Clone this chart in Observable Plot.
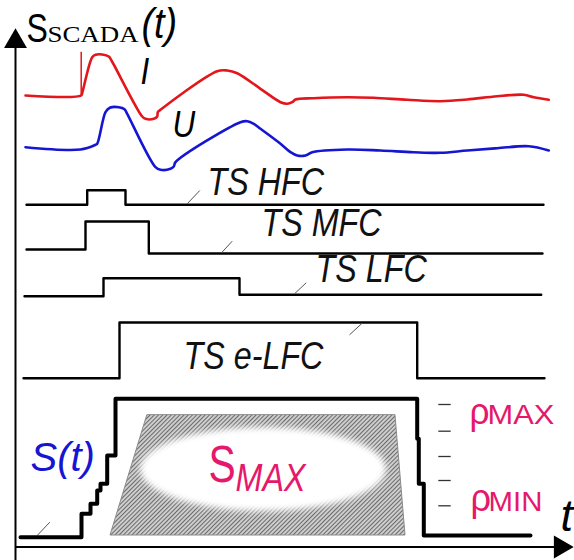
<!DOCTYPE html>
<html><head><meta charset="utf-8">
<script src="https://cdn.jsdelivr.net/npm/d3@7"></script>
<script src="https://cdn.jsdelivr.net/npm/@observablehq/plot@0.6"></script>
<style>html,body{margin:0;padding:0;background:#fff} svg{display:block}</style>
</head><body><div id="chart"></div>
<script>
// ---- SCADA signal I (red) : time samples and levels (y grows downward) ----
const iTime  = [25,80.7,81.7,91.7,95,101.7,108.3,111,141.7,145,153.3,156.7,157.3,160,216.7,226.7,236.7,260,280,286.7,291.7,295,313,346.7,373,406.7,440,466.7,496.7,523.3,533.3,548.3];
const iLevel = [95,95,92.5,56.7,54.3,54,56,60,116,118.3,118.3,116,111.7,109.3,70.7,70,72.7,88.3,101.7,103.3,101.7,99,97.7,96.7,97.3,99.3,100.7,99,95.7,94.3,96.7,99.3];
const iSpike = {t: 80.7, from: 95, to: 51.7};
// ---- SCADA signal U (blue) ----
const uTime  = [25,80,95,96.7,105,109.3,118.3,124,126.7,155,160,170,173.3,175,240,246.7,253.3,260,280,290,296.7,305,311.7,346.7,380,413,440,466.7,496.7,528.3,548.3];
const uLevel = [146.7,149,144.3,143.3,111.7,107.3,106.7,108.7,113.3,166.7,169.3,168.3,166,161.7,121.7,120.7,123.3,128.3,143.3,151.7,155,155,151.7,149,150,151.7,152.3,150,147.7,145.7,150];

// ---- telesignal (TS) step traces ----
const tsNames    = ["TS HFC","TS MFC","TS LFC","TS e-LFC"];
const tsStart    = [26,26,24,23];
const tsOn       = [86.7,85,103,119];
const tsOff      = [125,148.3,239,416.7];
const tsEnd      = [543,542,540.7,544];
const tsLowLeft  = [204.3,249,295.7,377.7];
const tsHigh     = [189.7,221,277.7,322];
const tsLowRight = [204.3,253,294.3,377.7];
const tsLabelT   = [207,261,315,183];
const tsLabelL   = [194,235,281.5,368.5];
const tsLeaderT  = [[186.7,199.3],[221,231.7],[294,305.7],[349,361.7]];
const tsLeaderL  = [[203.3,190],[252.3,240.7],[293.3,282.3],[334.3,322.7]];

// ---- resulting S(t) staircase ----
const sTime  = [20,81,81,90,90,96.7,96.7,100,100,106.7,106.7,115,115,416.7,416.7,418.3,418.3,423.3,423.3,530];
const sLevel = [536.7,536.7,513.3,513.3,503.3,503.3,490,490,483.3,483.3,455,455,398.3,398.3,438.3,438.3,483.3,483.3,535,535];
const sLeader = {t:[36.7,49.3], l:[535,521.7]};

// ---- S_MAX region (trapezoid + ellipse) ----
const trapLevel = [415,535];
const trapLeft  = [146.7,110];
const trapRight = [395,405];
const ellipseC  = {t:263, l:469, rt:123, rl:42};

// ---- rho scale dashes ----
const rhoDashLevels = [404,430.7,456,480,505.3];
const rhoDashSpan   = [438.3,450.7];

// ---- axes ----
const axisT = {origin:15, end:573, level:546.5};
const axisL = {top:28, bottom:560};

const RED = "#e3161c", BLUE = "#1616d2", PINK = "#e5186b";
const SANS = "'Liberation Sans', Arial, Helvetica, sans-serif";
const SERIF = "'Liberation Serif', 'Times New Roman', serif";

const tsPaths = tsNames.flatMap((name, k) => [
  [tsStart[k], tsLowLeft[k]], [tsOn[k], tsLowLeft[k]], [tsOn[k], tsHigh[k]],
  [tsOff[k], tsHigh[k]], [tsOff[k], tsLowRight[k]], [tsEnd[k], tsLowRight[k]]
].map(([t, l]) => ({name, t, l})));
const tsLabels = tsNames.map((name, k) => ({name, t: tsLabelT[k], l: tsLabelL[k]}));
const tsLeaders = tsNames.map((name, k) => ({t1: tsLeaderT[k][0], t2: tsLeaderT[k][1], l1: tsLeaderL[k][0], l2: tsLeaderL[k][1]}));
tsLeaders.push({t1: sLeader.t[0], t2: sLeader.t[1], l1: sLeader.l[0], l2: sLeader.l[1]});

const iData = iTime.map((t, k) => ({t, l: iLevel[k]}));
const uData = uTime.map((t, k) => ({t, l: uLevel[k]}));
const sData = sTime.map((t, k) => ({t, l: sLevel[k]}));
const trap = trapLevel.map((l, k) => ({l, a: trapLeft[k], b: trapRight[k]}));

function defsMark() {
  const defs = d3.create("svg:defs");
  const p = defs.append("pattern").attr("id", "hatch").attr("patternUnits", "userSpaceOnUse")
    .attr("width", 3).attr("height", 3).attr("patternTransform", "rotate(45)");
  p.append("rect").attr("width", 3).attr("height", 3).attr("fill", "#d0d0d0");
  p.append("line").attr("x1", 0.5).attr("y1", 0).attr("x2", 0.5).attr("y2", 3)
    .attr("stroke", "#6a6a6a").attr("stroke-width", 1.1);
  const f = defs.append("filter").attr("id", "soft").attr("x", "-20%").attr("y", "-40%")
    .attr("width", "140%").attr("height", "180%");
  f.append("feGaussianBlur").attr("stdDeviation", 3);
  return defs.node();
}
function ellipseMark(index, {x, y}) {
  return d3.create("svg:ellipse")
    .attr("cx", x(ellipseC.t)).attr("cy", y(ellipseC.l))
    .attr("rx", x(ellipseC.t + ellipseC.rt) - x(ellipseC.t))
    .attr("ry", y(ellipseC.l + ellipseC.rl) - y(ellipseC.l))
    .attr("fill", "white").attr("filter", "url(#soft)").node();
}

const txt = (t, l, text, size, opts = {}) =>
  Plot.text([{t, l, text}], {x: "t", y: "l", text: "text", fontSize: size, textAnchor: "start",
    lineAnchor: "bottom", fontFamily: SANS, fill: "black", ...opts});

const chart = Plot.plot({
  width: 574, height: 560, margin: 0,
  x: {domain: [0, 574], range: [0, 574], axis: null},
  y: {domain: [0, 560], range: [0, 560], axis: null},
  style: {background: "white", fontFamily: SANS, overflow: "visible"},
  marks: [
    defsMark,
    // axes
    Plot.ruleX([axisT.origin], {y1: axisL.top + 14, y2: axisL.bottom, stroke: "black", strokeWidth: 2}),
    Plot.ruleY([axisT.level], {x1: axisT.origin, x2: axisT.end - 14, stroke: "black", strokeWidth: 2}),
    Plot.dot([{t: axisT.origin, l: axisL.top + 13}], {x: "t", y: "l", symbol: "triangle", r: 8.5, fill: "black", stroke: null}),
    Plot.dot([{t: axisT.end - 13, l: axisT.level}], {x: "t", y: "l", symbol: "triangle", r: 8.5, fill: "black", stroke: null, rotate: 90}),
    // S_MAX region
    Plot.areaX(trap, {y: "l", x1: "a", x2: "b", fill: "url(#hatch)", stroke: "#8a8a8a", strokeWidth: 1}),
    ellipseMark,
    // SCADA curves
    Plot.ruleX([iSpike.t], {y1: iSpike.to, y2: iSpike.from, stroke: RED, strokeWidth: 1.5}),
    Plot.line(iData, {x: "t", y: "l", stroke: RED, strokeWidth: 2.6, curve: "catmull-rom"}),
    Plot.line(uData, {x: "t", y: "l", stroke: BLUE, strokeWidth: 2.6, curve: "catmull-rom"}),
    // TS traces
    Plot.line(tsPaths, {x: "t", y: "l", z: "name", stroke: "black", strokeWidth: 2.4}),
    Plot.link(tsLeaders, {x1: "t1", x2: "t2", y1: "l1", y2: "l2", stroke: "#555", strokeWidth: 1}),
    Plot.text(tsLabels, {x: "t", y: "l", text: "name", fontSize: 38, fontStyle: "italic", textAnchor: "start", lineAnchor: "bottom", fill: "#111"}),
    // S(t)
    Plot.line(sData, {x: "t", y: "l", stroke: "black", strokeWidth: 4}),
    // rho dashes
    Plot.ruleY(rhoDashLevels, {x1: rhoDashSpan[0], x2: rhoDashSpan[1], stroke: "#333", strokeWidth: 1.3}),
    // texts
    txt(26, 41.7, "S", 40),
    txt(47, 41.7, "SCADA", 24, {fontFamily: SERIF}),
    txt(141, 37.7, "(t)", 43, {fontStyle: "italic"}),
    txt(140, 83, "I", 37, {fontStyle: "italic"}),
    txt(172, 136.5, "U", 37, {fontStyle: "italic"}),
    txt(30, 470, "S(t)", 40, {fontStyle: "italic", fill: BLUE}),
    txt(208, 481.7, "S", 51, {fill: PINK}),
    txt(235, 490, "MAX", 38, {fontStyle: "italic", fill: PINK}),
    txt(469, 423.5, "ρ", 37, {fill: PINK}),
    txt(487, 423.3, "MAX", 28, {fill: PINK}),
    txt(470, 510, "ρ", 38, {fill: PINK}),
    txt(488, 510, "MIN", 28, {fill: PINK}),
    txt(560, 530, "t", 45, {fontStyle: "italic"})
  ]
});

// horizontal condensing / widening of glyphs, as in the reference lettering
const condense = {"TS HFC/i": 0.85, "TS MFC/i": 0.85, "TS LFC/i": 0.85, "TS e-LFC/i": 0.85,
  "I/i": 0.85, "U/i": 0.85, "S": 0.8, "SCADA": 1.12, "(t)/i": 0.88, "MAX/i": 0.85,
  "MAX": 1.1, "MIN": 1.05, "ρ": 0.95};
d3.select(chart).selectAll("text").each(function() {
  const g = this.closest("g[aria-label='text']") || this.parentNode;
  const italic = (this.getAttribute("font-style") || g.getAttribute("font-style")) === "italic";
  const key = this.textContent + (italic ? "/i" : "");
  const sx = condense[key];
  if (!sx) return;
  const tr = this.getAttribute("transform");
  if (tr) this.setAttribute("transform", tr + ` scale(${sx},1)`);
  else {
    const x = +this.getAttribute("x") || 0, y = +this.getAttribute("y") || 0;
    this.removeAttribute("x"); this.removeAttribute("y");
    this.setAttribute("transform", `translate(${x},${y}) scale(${sx},1)`);
  }
});
document.getElementById("chart").appendChild(chart);
</script>
</body></html>
